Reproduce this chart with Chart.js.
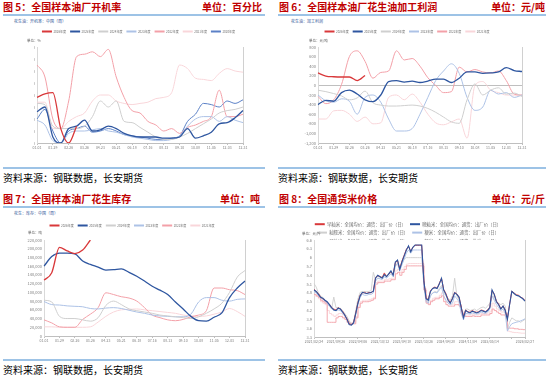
<!DOCTYPE html>
<html><head><meta charset="utf-8">
<script src="https://cdn.jsdelivr.net/npm/chart.js@4.4.1/dist/chart.umd.min.js"></script>
<style>
html,body{margin:0;padding:0;background:#fff;width:550px;height:378px;overflow:hidden;font-family:'Noto Sans CJK SC','Noto Sans',sans-serif;}
.a{position:absolute;white-space:nowrap;}
.t{font-weight:bold;font-size:10px;line-height:10px;color:#c00000;}
.rule{position:absolute;height:2px;background:#9dc3e6;}
.sub{font-size:4px;line-height:4px;color:#2f5597;}
.u{font-size:3.5px;line-height:4px;color:#595959;}
.src{font-size:10px;line-height:10px;color:#000;}
canvas{position:absolute;}
</style></head><body>

<div class="a t" style="left:3px;top:2px">图 5：全国样本油厂开机率</div>
<div class="a t" style="right:288px;top:2px">单位：百分比</div>
<div class="rule" style="left:3px;top:14px;width:262px"></div>
<div class="a sub" style="left:14px;top:19px">花生油：开机率：中国（周）</div>
<canvas id="c5" width="272" height="130" style="left:0;top:26px;width:272px;height:130px"></canvas>
<div class="a u" style="left:27px;top:39px">单位：%</div>
<div class="rule" style="left:3px;top:167px;width:262px"></div>
<div class="a src" style="left:3px;top:173px">资料来源：钢联数据，长安期货</div>

<div class="a t" style="left:279px;top:2px">图 6：全国样本油厂花生油加工利润</div>
<div class="a t" style="right:5px;top:2px">单位：元/吨</div>
<div class="rule" style="left:278px;top:14px;width:268px"></div>
<div class="a sub" style="left:291px;top:19px">花生油：加工利润</div>
<canvas id="c6" width="273" height="130" style="left:277px;top:26px;width:273px;height:130px"></canvas>
<div class="a u" style="left:309px;top:39px">单位：元/吨</div>
<div class="rule" style="left:278px;top:167px;width:268px"></div>
<div class="a src" style="left:278px;top:173px">资料来源：钢联数据，长安期货</div>

<div class="a t" style="left:3px;top:194px">图 7：全国样本油厂花生库存</div>
<div class="a t" style="right:290px;top:194px">单位：吨</div>
<div class="rule" style="left:3px;top:206px;width:262px"></div>
<div class="a sub" style="left:14px;top:211px">花生：库存：中国（周）</div>
<canvas id="c7" width="272" height="129" style="left:0;top:220px;width:272px;height:129px"></canvas>
<div class="a u" style="left:28px;top:231px">单位：吨</div>
<div class="rule" style="left:3px;top:359px;width:262px"></div>
<div class="a src" style="left:3px;top:365px">资料来源：钢联数据，长安期货</div>

<div class="a t" style="left:279px;top:194px">图 8：全国通货米价格</div>
<div class="a t" style="right:5px;top:194px">单位：元/斤</div>
<div class="rule" style="left:278px;top:206px;width:268px"></div>
<canvas id="c8" width="273" height="132" style="left:277px;top:218px;width:273px;height:132px"></canvas>
<div class="a u" style="left:302px;top:232px">单位：元/斤</div>
<div class="rule" style="left:278px;top:359px;width:268px"></div>
<div class="a src" style="left:278px;top:365px">资料来源：钢联数据，长安期货</div>

<script>
// ---------- data ----------
const seasonCats = ['01-01','01-15','01-29','02-12','02-26','03-12','03-26','04-09','04-23','05-07','05-21','06-04','06-18','07-02','07-16','07-30','08-13','08-27','09-10','09-24','10-08','10-22','11-05','11-19','12-03','12-17','12-31'];
const yearNames = ['2026年度','2025年度','2024年度','2023年度','2022年度','2021年度','2020年度'];

// 图5 开机率 (%)
const c5_2026 = [38, 41, 42, 12, 0, 14];
const c5_2025 = [26, 30, 5, 0, 12, 14, 19, 10, 11, 14, 12, 8, 6, 5, 5, 5, 4, 4, 5, 12, 4, 6, 9, 16, 17, 21, 27];
const c5_2024 = [33, 32, 14, 12, 12, 12, 14, 22, 35, 30, 35, 18, 17, 13, 9, 5, 3, 3, 5, 8, 12, 16, 20, 25, 27, 28, 30];
const c5_2023 = [19, 15, 2, 0, 8, 10, 10, 11, 12, 10, 9, 7, 5, 4, 3, 2, 2, 3, 6, 14, 20, 22, 22, 18, 22, 19, 17];
const c5_2022 = [65, 55, 20, 12, 35, 72, 74, 76, 72, 78, 55, 38, 27, 25, 18, 15, 10, 12, 8, 13, 15, 18, 22, 44, 22, 22, 24];
const c5_2021 = [34, 34, 12, 12, 18, 22, 25, 35, 40, 40, 35, 33, 32, 33, 34, 37, 38, 42, 65, 62, 54, 53, 52, 58, 62, 60, 59];
const c5_2020 = [20, 28, 10, 0, 10, 12, 14, 9, 10, 12, 10, 7, 6, 5, 4, 3, 3, 4, 6, 18, 24, 33, 32, 30, 35, 33, 36];

// 图6 加工利润 (元/吨)
const c6_2026 = [260, 195, 180, 175, 175, 100, 205];
const c6_2025 = [-400, -310, -330, -150, -100, -180, -300, -340, -200, 80, 100, 70, 90, 60, 90, 130, 130, 60, 150, 280, 280, 250, 260, 280, 370, 310, 290];
const c6_2024 = [-100, -130, -170, -220, -300, -260, -120, -360, -410, -430, -430, -420, -410, -430, -480, -560, -660, -760, -790, -300, 30, -200, -100, -50, -180, -160, -230];
const c6_2023 = [-200, -320, -350, -280, -330, -600, -250, -200, -350, -700, -950, -950, -900, -600, -250, 100, 300, 450, 250, -250, -520, -450, -100, -180, -150, -250, -200];
const c6_2022 = [-230, -380, -300, 20, 600, 720, 500, 150, 270, 300, 720, 530, 560, 400, 160, 0, -150, -130, 380, 280, 330, 280, 260, 300, 100, -180, -200];
const c6_2021 = [-700, -700, -530, -520, -600, -750, -660, -800, -780, -250, -200, -300, -180, -350, -600, -780, -820, -760, -700, -1100, 0, 80, -100, -150, -200, -200, -220];

// 图7 花生库存 (吨)
const c7_2026 = [128000, 145000, 203000, 195000, 189000, 197000, 220000];
const c7_2025 = [160000, 182000, 190000, 190000, 188000, 172000, 164000, 158000, 151000, 152000, 154000, 146000, 137000, 126000, 114000, 105000, 95000, 78000, 62000, 45000, 35000, 34000, 43000, 53000, 88000, 110000, 126000];
const c7_2024 = [82000, 78000, 45000, 40000, 40000, 37000, 34000, 42000, 70000, 80000, 72000, 62000, 58000, 55000, 52000, 48000, 46000, 44000, 42000, 40000, 44000, 52000, 62000, 75000, 100000, 135000, 150000];
const c7_2023 = [79000, 72000, 71000, 69000, 68000, 67000, 63000, 62000, 64000, 65000, 63000, 59000, 55000, 52000, 48000, 46000, 45000, 44000, 44000, 50000, 78000, 88000, 88000, 82000, 80000, 84000, 85000];
const c7_2022 = [37000, 30000, 21000, 20000, 20000, 38000, 50000, 65000, 99000, 95000, 90000, 87000, 80000, 65000, 48000, 42000, 37000, 35000, 38000, 44000, 48000, 58000, 110000, 110000, 106000, 104000, 95000];
const c7_2021 = [21000, 21000, 20000, 20000, 20000, 20000, 21000, 32000, 45000, 55000, 60000, 61000, 62000, 60000, 58000, 56000, 54000, 52000, 48000, 46000, 45000, 46000, 50000, 55000, 63000, 56000, 45000];

// 图8 通货米价格 (元/斤)
const c8Names = ['早籼米：全国均价：通货：出厂价（日）','晚籼米：全国均价：通货：出厂价（日）','籼糯米：全国均价：通货：出厂价（日）','粳米：全国均价：通货：出厂价（日）','早籼米：全国均价：通货：批发价（日）','粳米：全国均价：通货：批发价（日）'];
const c8TickDates = ['2021/02/24','2021/09/26','2022/04/06','2022/10/12','2023/04/18','2023/10/26','2024/04/28','2024/11/04','2025/05/14','2025/11/20'];
const c8LastDate = '2026/02/27';
const c8_s1 = [4.92,4.85,4.78,4.66,4.60,4.55,4.48,4.42,4.30,4.25,
 4.22,4.30,4.25,4.18,4.05,3.92,3.75,3.72,3.80,4.12,
 4.48,4.72,4.80,4.82,4.78,4.82,4.80,4.88,5.32,5.38,
 5.36,5.32,5.48,5.36,5.44,5.52,5.42,5.82,5.90,5.62,
 5.88,6.08,6.28,6.38,6.22,6.36,6.42,6.42,6.42,6.42,
 5.22,4.62,4.58,4.88,4.96,5.00,4.96,5.12,5.30,4.92,
 4.78,4.58,4.48,4.62,4.82,4.76,4.66,4.32,3.98,4.22,
 4.16,4.14,4.20,4.16,4.14,4.16,4.22,4.20,4.16,4.22,
 4.32,4.88,4.76,4.52,4.42,4.26,4.36,4.22,3.92,4.42,
 4.86,4.80,4.74,4.72,4.66,4.62,4.54];
const c8_s2 = [4.90,4.85,4.75,4.65,4.62,4.55,4.50,4.40,4.30,4.22,
 4.20,4.28,4.25,4.15,4.05,3.90,3.72,3.70,3.78,4.10,
 4.45,4.70,4.82,4.80,4.78,4.80,4.82,4.85,5.30,5.40,
 5.35,5.30,5.42,5.35,5.45,5.55,5.40,5.85,5.92,5.60,
 5.85,6.05,6.25,6.40,6.20,6.35,6.43,6.43,6.43,6.43,
 5.20,4.60,4.55,4.85,4.95,4.98,4.95,5.10,5.30,4.90,
 4.75,4.55,4.45,4.60,4.80,4.75,4.65,4.30,3.95,4.20,
 4.15,4.12,4.18,4.15,4.12,4.15,4.20,4.18,4.15,4.20,
 4.30,4.90,4.75,4.50,4.40,4.25,4.35,4.20,3.90,4.40,
 4.85,4.78,4.72,4.70,4.65,4.60,4.52];
const c8_s3 = [5.12,5.00,4.80,4.70,4.65,4.55,4.45,4.35,4.25,4.66,
 4.30,4.30,4.28,4.20,4.10,4.00,3.85,3.75,3.80,4.20,
 4.60,4.82,4.85,4.85,4.85,4.85,4.88,5.50,5.25,5.30,
 5.30,5.35,5.40,5.38,5.45,5.50,5.45,5.75,5.80,5.65,
 5.80,5.95,6.00,6.00,6.00,6.00,6.00,6.00,6.00,6.00,
 5.10,4.55,4.50,4.70,4.80,4.85,4.82,4.95,5.05,4.80,
 4.70,4.60,4.55,4.70,5.30,4.70,4.55,4.25,4.05,4.25,
 4.25,4.20,4.22,4.25,4.20,4.25,4.30,4.32,4.28,4.35,
 4.45,4.80,4.60,4.50,4.45,4.40,4.45,4.35,3.55,3.80,
 3.95,3.90,3.85,3.85,3.80,3.85,3.90];
const c8_s4 = [4.85,4.80,4.72,4.62,4.58,4.52,4.45,4.35,4.28,4.22,
 4.20,4.22,4.20,4.12,4.02,3.92,3.78,3.72,3.75,4.05,
 4.40,4.65,4.75,4.72,4.72,4.75,4.75,4.80,5.20,5.30,
 5.28,5.25,5.35,5.30,5.38,5.45,5.35,5.70,5.80,5.55,
 5.75,5.95,6.15,6.26,6.15,6.26,6.26,6.26,6.26,6.26,
 5.00,4.50,4.45,4.70,4.80,4.82,4.80,4.90,5.00,4.70,
 4.55,4.45,4.40,4.45,4.70,4.60,4.50,4.10,3.88,4.10,
 4.10,4.08,4.12,4.10,4.08,4.10,4.15,4.12,4.10,4.15,
 4.25,4.70,4.55,4.40,4.30,4.20,4.25,4.10,3.50,3.65,
 3.75,3.78,3.80,3.82,3.85,3.88,3.92];
const c8_s5 = [4.75,4.70,4.65,4.55,4.50,4.45,3.80,3.80,3.80,3.80,
 3.95,4.00,4.00,3.95,3.90,3.80,3.75,3.75,3.75,3.95,
 4.30,4.45,4.50,4.50,4.50,4.52,4.55,4.60,5.10,5.15,
 5.15,5.15,5.20,5.20,5.20,5.25,5.25,5.45,5.50,5.40,
 5.50,5.60,5.72,5.72,5.72,5.72,5.72,5.72,5.72,5.72,
 4.90,4.45,4.40,4.50,4.55,4.60,4.60,4.65,4.70,4.50,
 4.40,4.35,4.35,4.35,4.40,4.40,4.35,4.10,4.00,4.00,
 4.00,4.00,4.02,4.00,4.00,4.00,4.05,4.05,4.05,4.05,
 4.10,4.25,4.20,4.15,4.10,4.05,4.05,4.00,3.60,3.60,
 3.60,3.58,3.58,3.56,3.56,3.55,3.55];
const c8_s6 = [4.70,4.68,4.60,4.50,4.45,4.40,4.20,4.10,4.05,4.00,
 4.05,4.10,4.10,4.05,3.95,3.85,3.80,3.78,3.80,4.00,
 4.35,4.50,4.55,4.55,4.55,4.58,4.60,4.65,5.15,5.20,
 5.20,5.20,5.25,5.25,5.28,5.30,5.30,5.55,5.60,5.50,
 5.60,5.70,5.78,5.80,5.80,5.80,5.80,5.80,5.80,5.80,
 4.95,4.50,4.45,4.55,4.62,4.65,4.65,4.72,4.80,4.60,
 4.50,4.45,4.40,4.42,4.50,4.50,4.40,4.15,4.00,4.05,
 4.05,4.05,4.08,4.05,4.05,4.08,4.10,4.10,4.10,4.12,
 4.18,4.45,4.35,4.25,4.20,4.15,4.15,4.10,3.50,3.48,
 3.46,3.45,3.45,3.44,3.43,3.43,3.43];

// ---------- chart setup ----------
Chart.defaults.font.family = "'Noto Sans CJK SC','Noto Sans','DejaVu Sans',sans-serif";
const COL = {red:'#d9383a', dblue:'#2e56a0', gray:'#cfcfcf', lblue:'#adc2e6', pink:'#f3a0a8', lpink:'#f9d6da', mblue:'#5b80c6'};

const legendH = {
  id: 'legendH',
  beforeLayout(chart, args, opts) {
    const lg = chart.legend;
    if (lg && !lg._hPatched) {
      const f = lg.fit;
      lg.fit = function () { f.call(this); this.height = opts.h; };
      lg._hPatched = true;
    }
  }
};
const frame = {
  id: 'frame',
  beforeDatasetsDraw(chart) {
    const {ctx, chartArea: a} = chart;
    ctx.save();
    ctx.strokeStyle = '#d0d0d0'; ctx.lineWidth = 1;
    ctx.beginPath(); ctx.moveTo(Math.round(a.right) + 0.5, a.top); ctx.lineTo(Math.round(a.right) + 0.5, a.bottom); ctx.stroke();
    ctx.restore();
  }
};

function ds(label, data, color, extra) {
  return Object.assign({label, data, borderColor: color, backgroundColor: color, borderWidth: 1,
    pointRadius: 0, fill: false, cubicInterpolationMode: 'monotone'}, extra || {});
}

function build(id, cats, sets, o) {
  return new Chart(document.getElementById(id), {
    type: 'line',
    data: {labels: cats, datasets: sets},
    options: {
      responsive: false, animation: false, events: [],
      layout: {padding: {left: o.L, right: o.R, top: 0, bottom: 0}},
      plugins: {
        legend: {display: true, position: 'top',
          labels: {font: {size: o.lf}, color: '#6f6f6f', boxWidth: 10, boxHeight: 2, padding: o.lp,
            sort: (a, b) => a.datasetIndex - b.datasetIndex,
            generateLabels: ch => Chart.defaults.plugins.legend.labels.generateLabels(ch)
              .map(l => Object.assign(l, {lineWidth: 0, fillStyle: l.strokeStyle}))}},
        tooltip: {enabled: false},
        legendH: {h: o.lh}
      },
      scales: {
        x: {
          grid: {display: true, drawOnChartArea: false, drawTicks: true, tickLength: 2,
            color: c => o.showTick(c.index) ? '#bfbfbf' : 'rgba(0,0,0,0)'},
          border: {display: true, color: '#bfbfbf'},
          ticks: {autoSkip: false, maxRotation: 0, minRotation: 0, padding: 1,
            font: {size: o.xf}, color: '#7f7f7f', callback: (v, i) => o.xLabel(i)},
          afterFit: s => { s.height = o.xh; }
        },
        y: {
          min: o.min, max: o.max,
          grid: o.zero ? {display: true, drawTicks: false, drawOnChartArea: true,
              color: c => (c.tick && c.tick.value === 0) ? '#bfbfbf' : 'rgba(0,0,0,0)'}
            : {display: false, drawTicks: false},
          border: {display: true, color: '#d9d9d9'},
          ticks: {stepSize: o.step, font: {size: 4}, color: '#7f7f7f', padding: 2, callback: o.yfmt},
          afterFit: s => { s.width = o.yw; }
        }
      }
    },
    plugins: [legendH, frame]
  });
}

const seasonLabel = i => (i % 2 === 0 ? seasonCats[i] : '');
const seasonTick = i => i % 2 === 0;
const thous = v => Number(v).toLocaleString('en-US');

// 图5
build('c5', seasonCats, [
  ds(yearNames[0], c5_2026, COL.red, {borderWidth: 1.3}),
  ds(yearNames[1], c5_2025, COL.dblue, {borderWidth: 1.3}),
  ds(yearNames[2], c5_2024, COL.gray),
  ds(yearNames[3], c5_2023, COL.lblue),
  ds(yearNames[4], c5_2022, COL.pink),
  ds(yearNames[5], c5_2021, COL.lpink),
  ds(yearNames[6], c5_2020, COL.mblue)
], {L: 34, R: 29, yw: 3, xh: 13, lh: 21, lf: 3, lp: 4, xf: 3.5, min: 0, max: 80, step: 10,
    yfmt: v => String(v), xLabel: seasonLabel, showTick: seasonTick});

// 图6
build('c6', seasonCats, [
  ds(yearNames[0], c6_2026, COL.red, {borderWidth: 1.3}),
  ds(yearNames[1], c6_2025, COL.dblue, {borderWidth: 1.3}),
  ds(yearNames[2], c6_2024, COL.gray),
  ds(yearNames[3], c6_2023, COL.lblue),
  ds(yearNames[4], c6_2022, COL.pink),
  ds(yearNames[5], c6_2021, COL.lpink)
], {L: 15, R: 28, yw: 26, xh: 13, lh: 21, lf: 3, lp: 4, xf: 3.5, min: -1200, max: 800, step: 200, zero: true,
    yfmt: thous, xLabel: seasonLabel, showTick: seasonTick});

// 图7
build('c7', seasonCats, [
  ds(yearNames[0], c7_2026, COL.red, {borderWidth: 1.3}),
  ds(yearNames[1], c7_2025, COL.dblue, {borderWidth: 1.3}),
  ds(yearNames[2], c7_2024, COL.gray),
  ds(yearNames[3], c7_2023, COL.lblue),
  ds(yearNames[4], c7_2022, COL.pink),
  ds(yearNames[5], c7_2021, COL.lpink)
], {L: 19, R: 27, yw: 25, xh: 13, lh: 20, lf: 3, lp: 4, xf: 3.5, min: 0, max: 220000, step: 20000,
    yfmt: thous, xLabel: seasonLabel, showTick: seasonTick});

// 图8
const c8N = c8_s2.length;
const c8Cats = Array.from({length: c8N}, (_, i) =>
  i === c8N - 1 ? c8LastDate : (i % 10 === 0 ? c8TickDates[i / 10] : ''));
const flat = {tension: 0, cubicInterpolationMode: 'default', borderWidth: 0.9};
build('c8', c8Cats, [
  ds(c8Names[0], c8_s1, COL.red, Object.assign({order: 1}, flat)),
  ds(c8Names[1], c8_s2, COL.dblue, Object.assign({order: 0}, flat, {borderWidth: 1.1})),
  ds(c8Names[2], c8_s3, COL.gray, Object.assign({order: 4}, flat)),
  ds(c8Names[3], c8_s4, COL.lblue, Object.assign({order: 2}, flat)),
  ds(c8Names[4], c8_s5, COL.pink, Object.assign({order: 3, stepped: true}, flat)),
  ds(c8Names[5], c8_s6, COL.lpink, Object.assign({order: 5, stepped: true}, flat))
], {L: 14, R: 25, yw: 23, xh: 13, lh: 22, lf: 4.4, lp: 4, xf: 3.5, min: 3.3, max: 6.6, step: 0.3,
    yfmt: v => String(+Number(v).toFixed(1)),
    xLabel: i => (i === 90 ? '' : c8Cats[i]),
    showTick: i => (i % 10 === 0 || i === c8N - 1)});
</script>
</body></html>
